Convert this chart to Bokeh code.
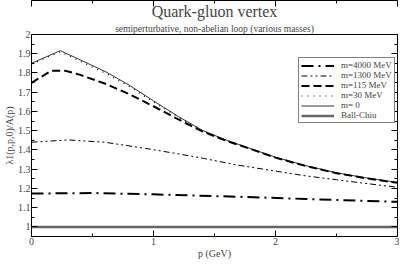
from bokeh.plotting import figure
from bokeh.models import (Title, LinearAxis, FixedTicker, Legend, LegendItem, Range1d)
from bokeh.embed import file_html
from bokeh.resources import INLINE

# ---- data ----
x_m0 = [0.0, 0.236, 0.4, 0.618, 0.8, 1.0, 1.2, 1.4, 1.6, 1.8, 2.0, 2.25, 2.5, 2.75, 3.0]
y_m0 = [1.850, 1.916, 1.868, 1.803, 1.737, 1.655, 1.575, 1.502, 1.450, 1.406, 1.362, 1.318, 1.281, 1.254, 1.231]

x_m30 = [0.0, 0.236, 0.4, 0.618, 0.8, 1.0, 1.2, 1.4, 1.6, 1.8, 2.0, 2.25, 2.5, 2.75, 3.0]
y_m30 = [1.847, 1.910, 1.861, 1.795, 1.730, 1.650, 1.572, 1.500, 1.449, 1.405, 1.361, 1.317, 1.280, 1.253, 1.230]

x_m115 = [0.0, 0.16, 0.28, 0.4, 0.618, 0.8, 1.0, 1.2, 1.4, 1.6, 1.8, 2.0, 2.25, 2.5, 2.75, 3.0]
y_m115 = [1.749, 1.811, 1.811, 1.790, 1.741, 1.690, 1.627, 1.560, 1.496, 1.447, 1.404, 1.360, 1.316, 1.279, 1.252, 1.229]

x_m1300 = [0.0, 0.3, 0.6, 0.934, 1.2, 1.41, 1.7, 1.96, 2.25, 2.5, 2.75, 3.0]
y_m1300 = [1.440, 1.452, 1.440, 1.408, 1.380, 1.356, 1.320, 1.294, 1.265, 1.245, 1.225, 1.206]

x_m4000 = [0.0, 0.5, 1.0, 1.5, 1.88, 2.25, 2.5, 3.0]
y_m4000 = [1.173, 1.176, 1.169, 1.160, 1.153, 1.145, 1.140, 1.130]

x_bc = [0.0, 3.0]
y_bc = [1.0, 1.0]

y_ticks = [1.0, 1.1, 1.2, 1.3, 1.4, 1.5, 1.6, 1.7, 1.8, 1.9, 2.0]
y_tick_labels = ["1", "1.1", "1.2", "1.3", "1.4", "1.5", "1.6", "1.7", "1.8", "1.9", "2"]
y_minor = [0.95, 1.05, 1.15, 1.25, 1.35, 1.45, 1.55, 1.65, 1.75, 1.85, 1.95]
x_ticks = [0, 1, 2, 3]
x_tick_labels = ["0", "1", "2", "3"]
x_minor = [0.5, 1.5, 2.5]

FONT = "Liberation Serif"

p = figure(width=399, height=261, output_backend="svg", toolbar_location=None,
           x_range=Range1d(0, 3), y_range=Range1d(0.95, 2.0),
           min_border_left=0, min_border_right=2, min_border_top=0, min_border_bottom=0)
p.background_fill_color = "white"
p.border_fill_color = "white"
p.outline_line_color = "black"
p.outline_line_width = 1
p.xgrid.visible = False
p.ygrid.visible = False

sub = Title(text="semiperturbative, non-abelian loop (various masses)", align="center",
            text_font=FONT, text_font_size="9.5px", text_font_style="normal",
            standoff=2, offset=0)
main = Title(text="Quark-gluon vertex", align="center", text_font=FONT,
             text_font_size="16px", text_font_style="normal", standoff=1, offset=0)
p.add_layout(sub, "above")
p.add_layout(main, "above")


def style_axis(ax):
    ax.axis_line_color = "black"
    ax.major_tick_in = 6
    ax.major_tick_out = 0
    ax.minor_tick_in = 3
    ax.minor_tick_out = 0
    ax.major_tick_line_color = "black"
    ax.minor_tick_line_color = "black"
    ax.major_label_text_font = FONT
    ax.major_label_text_font_size = "10px"
    ax.major_label_standoff = 1
    ax.axis_label_text_font = FONT
    ax.axis_label_text_font_size = "10px"
    ax.axis_label_text_font_style = "normal"
    ax.axis_label_standoff = 0


xt = FixedTicker(ticks=x_ticks, minor_ticks=x_minor)
yt = FixedTicker(ticks=y_ticks, minor_ticks=y_minor)

p.xaxis.ticker = xt
p.yaxis.ticker = yt
p.xaxis.major_label_overrides = {t: l for t, l in zip(x_ticks, x_tick_labels)}
p.yaxis.major_label_overrides = {t: l for t, l in zip(y_ticks, y_tick_labels)}
p.xaxis.axis_label = "p (GeV)"
p.yaxis.axis_label = "λ1(p,p,0)/A(p)"
style_axis(p.xaxis[0])
style_axis(p.yaxis[0])

# mirrored tick marks on the right and top (no labels)
ax_r = LinearAxis(ticker=yt)
style_axis(ax_r)
ax_r.major_label_overrides = {t: "" for t in y_ticks}
ax_r.major_label_text_font_size = "1px"
ax_r.major_label_standoff = 0
p.add_layout(ax_r, "right")
ax_t = LinearAxis(ticker=xt)
style_axis(ax_t)
ax_t.major_label_overrides = {t: "" for t in x_ticks}
ax_t.major_label_text_font_size = "1px"
ax_t.major_label_standoff = 0
p.add_layout(ax_t, "above")

r4000 = p.line(x_m4000, y_m4000, line_color="black", line_width=2, line_dash="12 5 2 5")
r1300 = p.line(x_m1300, y_m1300, line_color="black", line_width=1, line_dash="6 3 2 3 2 3")
r115 = p.line(x_m115, y_m115, line_color="black", line_width=2, line_dash="8 4")
r30 = p.line(x_m30, y_m30, line_color="black", line_width=1.2, line_dash="1 5")
r0 = p.line(x_m0, y_m0, line_color="black", line_width=0.8)
rbc = p.line(x_bc, y_bc, line_color="#666666", line_width=2.5)

legend = Legend(items=[
    LegendItem(label="m=4000 MeV", renderers=[r4000]),
    LegendItem(label="m=1300 MeV", renderers=[r1300]),
    LegendItem(label="m=115 MeV", renderers=[r115]),
    LegendItem(label="m=30 MeV", renderers=[r30]),
    LegendItem(label="m= 0", renderers=[r0]),
    LegendItem(label="Ball-Chiu", renderers=[rbc]),
], location=(267, 113))
legend.label_text_font = FONT
legend.label_text_font_size = "9px"
legend.label_height = 7
legend.glyph_height = 7
legend.glyph_width = 33
legend.label_standoff = 7
legend.spacing = 0
legend.padding = 2
legend.margin = 0
legend.border_line_color = "black"
legend.border_line_width = 1
legend.background_fill_color = "white"
legend.background_fill_alpha = 1.0
p.add_layout(legend, "center")

open("out.html", "w").write(file_html(p, INLINE))
